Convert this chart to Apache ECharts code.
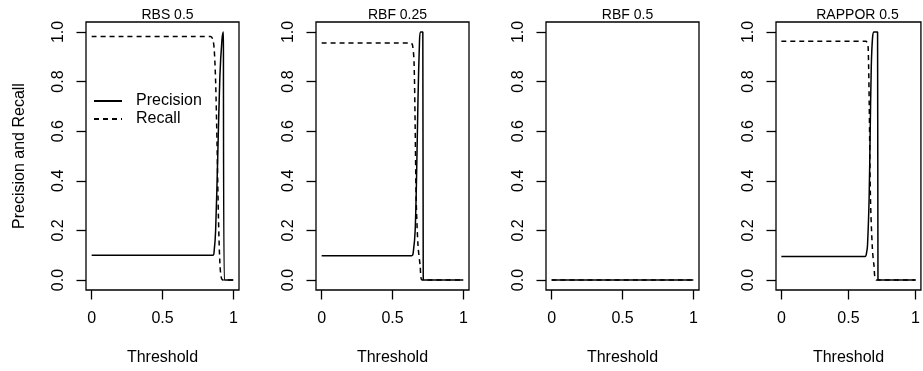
<!DOCTYPE html>
<html>
<head>
<meta charset="utf-8">
<script src="https://cdn.jsdelivr.net/npm/echarts@6/dist/echarts.min.js"></script>
<style>
  html, body { margin: 0; padding: 0; background: #fff; }
  #chart { width: 923px; height: 371px; }
</style>
</head>
<body>
<div id="chart"></div>
<script>
// panel titles
const panelTitles = ['RBS 0.5', 'RBF 0.25', 'RBF 0.5', 'RAPPOR 0.5'];
const xTicks = [0, 0.5, 1];
const yTicks = [0, 0.2, 0.4, 0.6, 0.8, 1];

// [threshold, value]
const rbs05Precision = [[0, 0.1], [0.855, 0.1], [0.865, 0.12], [0.875, 0.2], [0.89, 0.5], [0.905, 0.82], [0.92, 0.97], [0.93, 1], [0.934, 1], [0.936, 0], [1, 0]];
const rbs05Recall = [[0, 0.982], [0.84, 0.982], [0.855, 0.97], [0.865, 0.93], [0.875, 0.8], [0.885, 0.55], [0.895, 0.25], [0.905, 0.07], [0.915, 0.01], [0.93, 0], [1, 0]];

const rbf025Precision = [[0, 0.098], [0.636, 0.098], [0.648, 0.12], [0.66, 0.2], [0.67, 0.42], [0.68, 0.73], [0.69, 0.95], [0.697, 1], [0.714, 1], [0.717, 0], [1, 0]];
const rbf025Recall = [[0, 0.955], [0.63, 0.955], [0.642, 0.945], [0.652, 0.88], [0.66, 0.62], [0.667, 0.33], [0.68, 0.14], [0.695, 0.06], [0.71, 0], [1, 0]];

const rbf05Precision = [[0, 0], [1, 0]];
const rbf05Recall = [[0, 0], [1, 0]];

const rappor05Precision = [[0, 0.095], [0.624, 0.095], [0.635, 0.11], [0.642, 0.14], [0.654, 0.33], [0.662, 0.6], [0.67, 0.86], [0.68, 0.98], [0.69, 1], [0.717, 1], [0.72, 0], [1, 0]];
const rappor05Recall = [[0, 0.962], [0.63, 0.962], [0.64, 0.955], [0.647, 0.935], [0.655, 0.7], [0.664, 0.33], [0.678, 0.13], [0.69, 0.06], [0.71, 0], [1, 0]];

const precisionSets = [rbs05Precision, rbf025Precision, rbf05Precision, rappor05Precision];
const recallSets = [rbs05Recall, rbf025Recall, rbf05Recall, rappor05Recall];

const font = 'Liberation Sans, Arial, Helvetica, sans-serif';
const panelLeft = [86, 316, 546, 776];
const panelWidth = 153;

const chart = echarts.init(document.getElementById('chart'));

const grids = [], xAxes = [], yAxes = [], series = [], titles = [];
panelLeft.forEach((left, i) => {
    grids.push({
        left: left, top: 22, width: panelWidth, height: 269,
        show: true, borderColor: '#000', borderWidth: 1.3, backgroundColor: 'transparent'
    });
    titles.push({
        text: panelTitles[i],
        left: left + panelWidth / 2, top: 3, textAlign: 'center',
        textStyle: { fontFamily: font, fontSize: 14, fontWeight: 'normal', color: '#000' }
    });
    xAxes.push({
        type: 'value', gridIndex: i, min: -0.04, max: 1.04,
        name: 'Threshold', nameLocation: 'middle', nameGap: 60,
        nameTextStyle: { fontFamily: font, fontSize: 16, color: '#000' },
        axisLine: { show: false, onZero: false },
        axisTick: { show: true, length: 9.5, customValues: xTicks, lineStyle: { color: '#000', width: 1.3 } },
        axisLabel: { customValues: xTicks, margin: 21, fontFamily: font, fontSize: 16, color: '#000',
            formatter: v => String(v) },
        splitLine: { show: false }
    });
    yAxes.push({
        type: 'value', gridIndex: i, min: -0.04, max: 1.04,
        name: i === 0 ? 'Precision and Recall' : '',
        nameLocation: 'middle', nameGap: 58, nameRotate: 90,
        nameTextStyle: { fontFamily: font, fontSize: 16, color: '#000' },
        axisLine: { show: false, onZero: false },
        axisTick: { show: true, length: 9.5, customValues: yTicks, lineStyle: { color: '#000', width: 1.3 } },
        axisLabel: { customValues: yTicks, margin: 19, rotate: 90, fontFamily: font, fontSize: 16, color: '#000',
            formatter: v => v.toFixed(1) },
        splitLine: { show: false }
    });
    series.push({
        name: 'Precision', type: 'line', xAxisIndex: i, yAxisIndex: i,
        data: precisionSets[i], smooth: 0.3, showSymbol: false, symbol: 'none', silent: true,
        itemStyle: { color: '#000' },
        lineStyle: { color: '#000', width: 1.5, type: 'solid' }
    });
    series.push({
        name: 'Recall', type: 'line', xAxisIndex: i, yAxisIndex: i,
        data: recallSets[i], smooth: 0.3, showSymbol: false, symbol: 'none', silent: true,
        itemStyle: { color: '#000' },
        lineStyle: { color: '#000', width: 1.5, type: [5, 4] }
    });
});

const option = {
    animation: false,
    title: titles,
    legend: {
        data: ['Precision', 'Recall'],
        orient: 'vertical', left: 93, top: 93, padding: 0,
        itemWidth: 28, itemHeight: 10, itemGap: 2,
        selectedMode: false,
        itemStyle: { opacity: 0 },
        textStyle: { fontFamily: font, fontSize: 16, color: '#000', padding: [0, 0, 0, 9] }
    },
    grid: grids,
    xAxis: xAxes,
    yAxis: yAxes,
    series: series
};

chart.setOption(option);
</script>
</body>
</html>
